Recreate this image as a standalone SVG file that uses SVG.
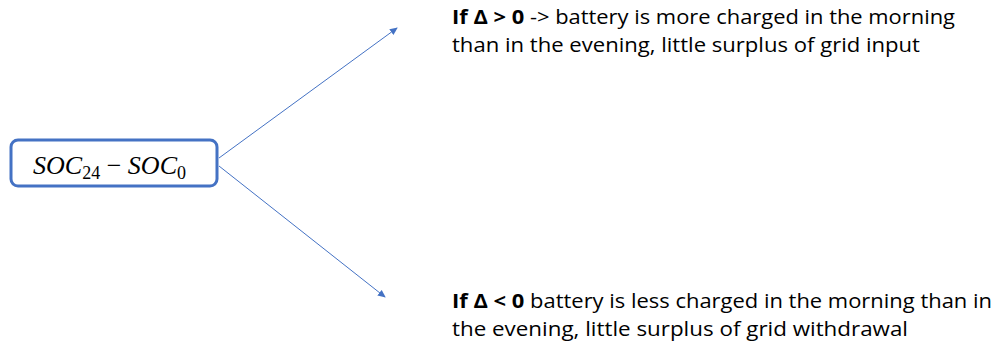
<svg xmlns="http://www.w3.org/2000/svg" width="995" height="348" viewBox="0 0 995 348">
<style>
.t{font-family:"Open Sans","Liberation Sans",sans-serif;font-size:20px;fill:#000}
.b{font-weight:bold}
.m{font-family:"Liberation Serif",serif;font-style:italic;font-size:26px;fill:#000}
.s{font-style:normal;font-size:18px}
.c{stroke:#4472C4;stroke-width:1;fill:none}
</style>
<defs>
<marker id="ah" markerWidth="8" markerHeight="8" refX="7" refY="4" orient="auto" markerUnits="userSpaceOnUse">
<path d="M0,0.5 L8,4 L0,7.5 Z" fill="#4472C4"/>
</marker>
</defs>
<rect width="995" height="348" fill="#fff"/>
<g id="node-soc">
<rect x="11" y="140" width="206" height="46" rx="7" fill="#fff" stroke="#4472C4" stroke-width="3"/>
<text class="m" x="33" y="174" textLength="153" lengthAdjust="spacingAndGlyphs">SOC<tspan class="s" dy="5">24</tspan><tspan dy="-5" font-style="normal">  −  </tspan>SOC<tspan class="s" dy="5">0</tspan></text>
</g>
<g id="connectors">
<line class="c" x1="219" y1="158" x2="397" y2="28" marker-end="url(#ah)"/>
<line class="c" x1="219" y1="166" x2="385" y2="297" marker-end="url(#ah)"/>
</g>
<g id="node-pos">
<text class="t" x="452" y="24" textLength="503" lengthAdjust="spacingAndGlyphs"><tspan class="b">If Δ &gt; 0</tspan> -&gt; battery is more charged in the morning</text>
<text class="t" x="452" y="52" textLength="468" lengthAdjust="spacingAndGlyphs">than in the evening, little surplus of grid input</text>
</g>
<g id="node-neg">
<text class="t" x="452" y="308" textLength="540" lengthAdjust="spacingAndGlyphs"><tspan class="b">If Δ &lt; 0</tspan> battery is less charged in the morning than in</text>
<text class="t" x="452" y="336" textLength="456" lengthAdjust="spacingAndGlyphs">the evening, little surplus of grid withdrawal</text>
</g>
</svg>
